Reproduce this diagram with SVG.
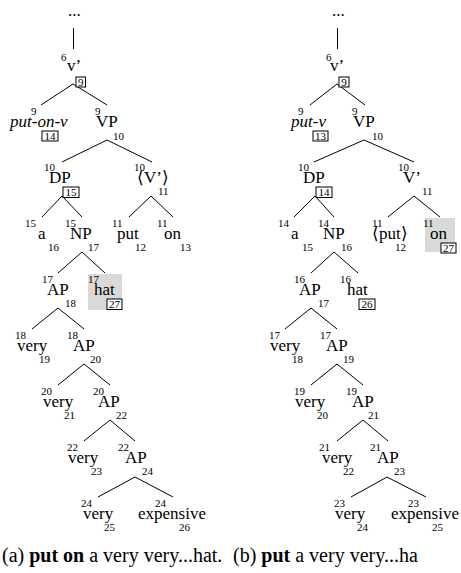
<svg xmlns="http://www.w3.org/2000/svg" width="461" height="573" viewBox="0 0 461 573">
<style>
text{font-family:"Liberation Serif","Times New Roman",serif;fill:#000}
.l{font-size:17px}
.i{font-size:17px;font-style:italic}
.s{font-size:11px}
.b{font-size:11px;text-anchor:middle}
.bx{fill:#fff;stroke:#000;stroke-width:1}
.hl{fill:#d9d9d9}
.cap{font-size:20px}
#edges line{stroke:#000;stroke-width:1}
</style>
<rect width="461" height="573" fill="#fff"/>
<g id="edges">
<line x1="73.5" y1="28" x2="73.5" y2="49"/>
<line x1="73" y1="84" x2="41" y2="105"/><line x1="73" y1="84" x2="107" y2="105"/>
<line x1="107" y1="140" x2="62" y2="162"/><line x1="107" y1="140" x2="152" y2="162"/>
<line x1="62" y1="196" x2="42" y2="217"/><line x1="62" y1="196" x2="82" y2="217"/>
<line x1="151" y1="196" x2="129" y2="217"/><line x1="151" y1="196" x2="173" y2="217"/>
<line x1="82" y1="252" x2="58" y2="273"/><line x1="82" y1="252" x2="105" y2="273"/>
<line x1="58" y1="308" x2="32" y2="329"/><line x1="58" y1="308" x2="84" y2="329"/>
<line x1="84" y1="364" x2="58" y2="385"/><line x1="84" y1="364" x2="110" y2="385"/>
<line x1="110" y1="420" x2="84" y2="441"/><line x1="110" y1="420" x2="135" y2="441"/>
<line x1="135" y1="477" x2="98" y2="497"/><line x1="135" y1="477" x2="173" y2="497"/>
<line x1="337.5" y1="28" x2="337.5" y2="49"/>
<line x1="337" y1="84" x2="310" y2="105"/><line x1="337" y1="84" x2="365" y2="105"/>
<line x1="364" y1="140" x2="314" y2="162"/><line x1="364" y1="140" x2="414" y2="162"/>
<line x1="315" y1="196" x2="294" y2="217"/><line x1="315" y1="196" x2="334" y2="217"/>
<line x1="414" y1="196" x2="388" y2="217"/><line x1="414" y1="196" x2="440" y2="217"/>
<line x1="334" y1="252" x2="311" y2="273"/><line x1="334" y1="252" x2="358" y2="273"/>
<line x1="311" y1="308" x2="285" y2="329"/><line x1="311" y1="308" x2="337" y2="329"/>
<line x1="337" y1="364" x2="311" y2="385"/><line x1="337" y1="364" x2="363" y2="385"/>
<line x1="363" y1="420" x2="337" y2="441"/><line x1="363" y1="420" x2="388" y2="441"/>
<line x1="387" y1="477" x2="351" y2="497"/><line x1="387" y1="477" x2="426" y2="497"/>
</g>
<!-- left tree -->
<g id="a-top"><text class="l" x="68" y="16">...</text></g>
<g id="a-v1"><text class="s" x="61" y="61">6</text><text class="l" x="67" y="71">v’</text><rect class="bx" x="76" y="77" width="9.5" height="10"/><text class="b" x="80.8" y="85.5">9</text></g>
<g id="a-putonv"><text class="s" x="31" y="115">9</text><text class="i" x="10" y="127">put-on-v</text><rect class="bx" x="42" y="131" width="16" height="10"/><text class="b" x="50" y="139.5">14</text></g>
<g id="a-VP"><text class="s" x="95" y="115">9</text><text class="l" x="96" y="127">VP</text><text class="s" x="113" y="140">10</text></g>
<g id="a-DP"><text class="s" x="44" y="171">10</text><text class="l" x="49" y="183">DP</text><rect class="bx" x="63" y="187" width="16" height="10.5"/><text class="b" x="71" y="196">15</text></g>
<g id="a-V1"><text class="s" x="134" y="171">10</text><text class="l" x="137" y="183">⟨V’⟩</text><text class="s" x="158" y="195">11</text></g>
<g id="a-a"><text class="s" x="25" y="227">15</text><text class="l" x="38" y="239">a</text><text class="s" x="48" y="251">16</text></g>
<g id="a-NP"><text class="s" x="65" y="227">15</text><text class="l" x="70" y="239">NP</text><text class="s" x="88" y="251">17</text></g>
<g id="a-put"><text class="s" x="112" y="227">11</text><text class="l" x="117" y="239">put</text><text class="s" x="135" y="251">12</text></g>
<g id="a-on"><text class="s" x="157" y="227">11</text><text class="l" x="164" y="239">on</text><text class="s" x="180" y="251">13</text></g>
<g id="a-AP1"><text class="s" x="42" y="283">17</text><text class="l" x="47" y="295">AP</text><text class="s" x="65" y="307">18</text></g>
<g id="a-hat"><rect class="hl" x="88" y="274" width="34" height="36"/><text class="s" x="88" y="283">17</text><text class="l" x="94" y="295">hat</text><rect class="bx" x="107" y="299" width="15" height="10.5"/><text class="b" x="114.5" y="308">27</text></g>
<g id="a-very1"><text class="s" x="15" y="339">18</text><text class="l" x="17" y="351">very</text><text class="s" x="39" y="363">19</text></g>
<g id="a-AP2"><text class="s" x="67" y="339">18</text><text class="l" x="73" y="351">AP</text><text class="s" x="90" y="363">20</text></g>
<g id="a-very2"><text class="s" x="41" y="395">20</text><text class="l" x="43" y="407">very</text><text class="s" x="64" y="419">21</text></g>
<g id="a-AP3"><text class="s" x="93" y="395">20</text><text class="l" x="98" y="407">AP</text><text class="s" x="116" y="419">22</text></g>
<g id="a-very3"><text class="s" x="67" y="451">22</text><text class="l" x="68" y="463">very</text><text class="s" x="91" y="475">23</text></g>
<g id="a-AP4"><text class="s" x="118" y="451">22</text><text class="l" x="125" y="463">AP</text><text class="s" x="142" y="475">24</text></g>
<g id="a-very4"><text class="s" x="81" y="507">24</text><text class="l" x="83" y="519">very</text><text class="s" x="104" y="531">25</text></g>
<g id="a-expensive"><text class="s" x="155" y="507">24</text><text class="l" x="138" y="519">expensive</text><text class="s" x="179" y="531">26</text></g>
<!-- right tree -->
<g id="b-top"><text class="l" x="332" y="16">...</text></g>
<g id="b-v1"><text class="s" x="326" y="61">6</text><text class="l" x="330" y="71">v’</text><rect class="bx" x="339" y="77" width="10" height="10"/><text class="b" x="344" y="85.5">9</text></g>
<g id="b-putv"><text class="s" x="298" y="115">9</text><text class="i" x="291" y="127">put-v</text><rect class="bx" x="313" y="131" width="15" height="10"/><text class="b" x="320.5" y="139.5">13</text></g>
<g id="b-VP"><text class="s" x="352" y="115">9</text><text class="l" x="353" y="127">VP</text><text class="s" x="372" y="140">10</text></g>
<g id="b-DP"><text class="s" x="298" y="171">10</text><text class="l" x="303" y="183">DP</text><rect class="bx" x="316" y="187" width="16" height="10.5"/><text class="b" x="324" y="196">14</text></g>
<g id="b-V1"><text class="s" x="398" y="171">10</text><text class="l" x="403" y="183">V’</text><text class="s" x="422" y="195">11</text></g>
<g id="b-a"><text class="s" x="278" y="227">14</text><text class="l" x="291" y="239">a</text><text class="s" x="302" y="251">15</text></g>
<g id="b-NP"><text class="s" x="318" y="227">14</text><text class="l" x="323" y="239">NP</text><text class="s" x="341" y="251">16</text></g>
<g id="b-put"><text class="s" x="372" y="227">11</text><text class="l" x="372" y="239">⟨put⟩</text><text class="s" x="395" y="251">12</text></g>
<g id="b-on"><rect class="hl" x="425" y="218" width="30" height="34"/><text class="s" x="423" y="227">11</text><text class="l" x="430" y="239">on</text><rect class="bx" x="441" y="243" width="15" height="10"/><text class="b" x="448.5" y="251.5">27</text></g>
<g id="b-AP1"><text class="s" x="294" y="283">16</text><text class="l" x="299" y="295">AP</text><text class="s" x="318" y="307">17</text></g>
<g id="b-hat"><text class="s" x="340" y="283">16</text><text class="l" x="347" y="295">hat</text><rect class="bx" x="359" y="299" width="16" height="10.5"/><text class="b" x="367" y="308">26</text></g>
<g id="b-very1"><text class="s" x="269" y="339">17</text><text class="l" x="270" y="351">very</text><text class="s" x="292" y="363">18</text></g>
<g id="b-AP2"><text class="s" x="320" y="339">17</text><text class="l" x="326" y="351">AP</text><text class="s" x="343" y="363">19</text></g>
<g id="b-very2"><text class="s" x="294" y="395">19</text><text class="l" x="295" y="407">very</text><text class="s" x="317" y="419">20</text></g>
<g id="b-AP3"><text class="s" x="346" y="395">19</text><text class="l" x="352" y="407">AP</text><text class="s" x="368" y="419">21</text></g>
<g id="b-very3"><text class="s" x="319" y="451">21</text><text class="l" x="322" y="463">very</text><text class="s" x="343" y="475">22</text></g>
<g id="b-AP4"><text class="s" x="370" y="451">21</text><text class="l" x="377" y="463">AP</text><text class="s" x="394" y="475">23</text></g>
<g id="b-very4"><text class="s" x="334" y="507">23</text><text class="l" x="335" y="519">very</text><text class="s" x="357" y="531">24</text></g>
<g id="b-expensive"><text class="s" x="408" y="507">23</text><text class="l" x="391" y="519">expensive</text><text class="s" x="432" y="531">25</text></g>
<!-- captions -->
<g id="captions">
<text class="cap" x="2" y="562">(a) <tspan font-weight="bold">put on</tspan> a very very...hat.</text>
<text class="cap" x="233" y="562">(b) <tspan font-weight="bold">put</tspan> a very very...ha</text>
</g>
</svg>
